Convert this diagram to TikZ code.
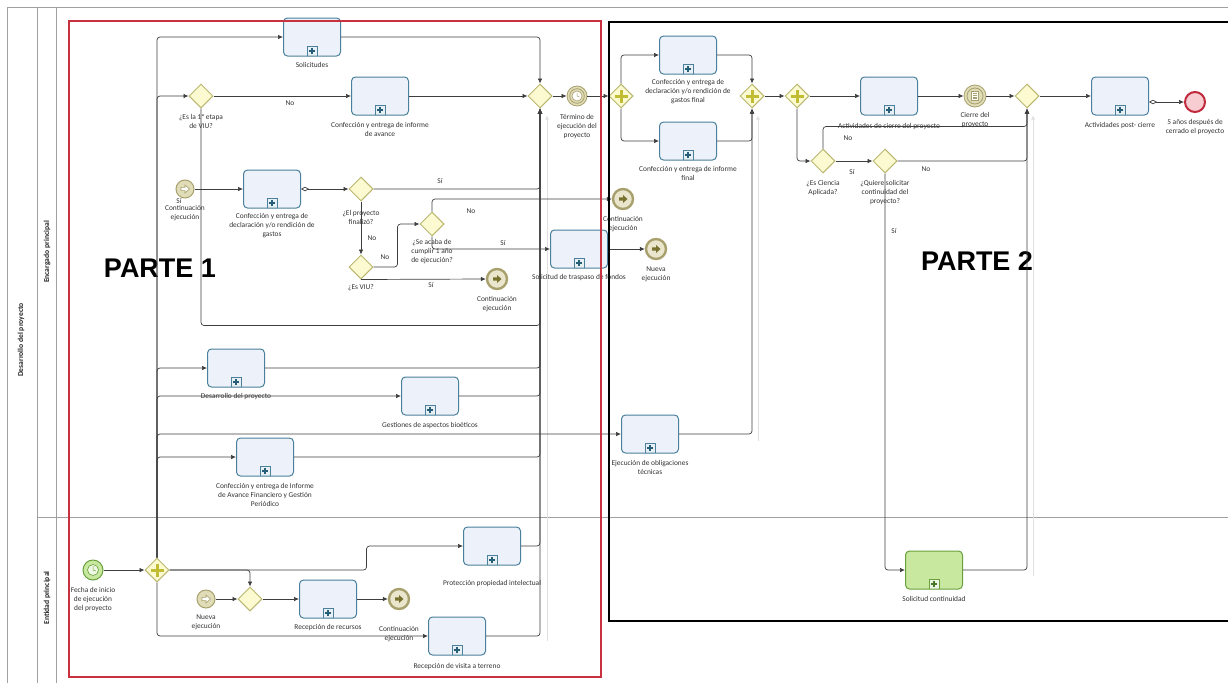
\documentclass[tikz,border=0pt]{standalone}
\usepackage{fontspec}
\setmainfont{Carlito}
\newfontfamily\partfont{Liberation Sans}
\usetikzlibrary{shapes.geometric,arrows.meta,positioning}

\definecolor{taskline}{RGB}{74,128,156}
\definecolor{taskfill}{RGB}{237,242,250}
\definecolor{taskplus}{RGB}{40,95,120}
\definecolor{greenline}{RGB}{105,160,60}
\definecolor{greenfill}{RGB}{200,232,160}
\definecolor{greenplus}{RGB}{70,120,40}
\definecolor{gwline}{RGB}{186,182,112}
\definecolor{gwfill}{RGB}{252,250,208}
\definecolor{gwcross}{RGB}{192,188,52}
\definecolor{evline}{RGB}{168,160,108}
\definecolor{evfill}{RGB}{224,220,184}
\definecolor{evicon}{RGB}{120,114,48}
\definecolor{endred}{RGB}{192,40,60}
\definecolor{endfill}{RGB}{248,205,210}
\definecolor{flowcol}{RGB}{62,62,62}
\definecolor{lanegray}{RGB}{160,160,160}
\definecolor{partred}{RGB}{200,50,62}
\definecolor{txt}{RGB}{50,50,50}

\newcommand{\subpmark}[2]{%
  \begin{scope}[shift={(path picture bounding box.center)}, sharp corners]
    \draw[#1, fill=#1!12, line width=0.9pt] (-5,19) rectangle (5,9);
    \draw[#2, line width=1.6pt] (0,17) -- (0,11) (-3,14) -- (3,14);
  \end{scope}}

\tikzset{
  lane/.style={draw=lanegray, line width=0.8pt},
  lanename/.style={font=\bfseries\fontsize{7.6}{8}\selectfont, text=black!85, rotate=90},
  taskbase/.style={rectangle, line width=1pt, rounded corners=4pt, minimum width=57pt, minimum height=38pt, inner sep=0pt},
  task/.style={taskbase, draw=taskline, fill=taskfill, path picture={\subpmark{taskline}{taskplus}}},
  greentask/.style={taskbase, draw=greenline, fill=greenfill, path picture={\subpmark{greenline}{greenplus}}},
  gw/.style={diamond, aspect=1, draw=gwline, fill=gwfill, line width=1pt, minimum size=24pt, inner sep=0pt},
  gwplus/.style={gw, path picture={\draw[gwcross, line width=3pt, shift={(path picture bounding box.center)}] (-6.5,0) -- (6.5,0) (0,-6.5) -- (0,6.5);}},
  evstart/.style={circle, draw=evline, fill=evfill, line width=1pt, minimum size=18pt, inner sep=0pt,
    path picture={\draw[evline, fill=white, line width=0.6pt, shift={(path picture bounding box.center)}] (-4,-1.6) -- (0,-1.6) -- (0,-4) -- (4.5,0) -- (0,4) -- (0,1.6) -- (-4,1.6) -- cycle;}},
  evend/.style={circle, draw=evline, fill=evfill!70, line width=2.4pt, minimum size=20pt, inner sep=0pt,
    path picture={\fill[evicon, shift={(path picture bounding box.center)}] (-4,-1.6) -- (0,-1.6) -- (0,-4) -- (4.5,0) -- (0,4) -- (0,1.6) -- (-4,1.6) -- cycle;}},
  evtimer/.style={circle, draw=evline, fill=evfill, line width=0.8pt, minimum size=20pt, inner sep=0pt,
    path picture={\begin{scope}[shift={(path picture bounding box.center)}]
      \draw[evline, line width=0.8pt] (0,0) circle (7.3pt);
      \draw[evline, fill=white, line width=0.6pt] (0,0) circle (5pt);
      \draw[evline, line width=0.5pt] (0,0) -- (0,-3.5) (0,0) -- (2.6,1);
    \end{scope}}},
  evcierre/.style={circle, draw=evline, fill=evfill, line width=0.8pt, minimum size=22pt, inner sep=0pt,
    path picture={\begin{scope}[shift={(path picture bounding box.center)}]
      \draw[evline, line width=0.8pt] (0,0) circle (8pt);
      \draw[evline, fill=white, line width=0.6pt] (-3.5,-4.5) rectangle (3.5,4.5);
      \draw[evline, line width=0.5pt] (-2,-2.5) -- (2,-2.5) (-2,-0.8) -- (2,-0.8) (-2,0.8) -- (2,0.8) (-2,2.5) -- (2,2.5);
    \end{scope}}},
  evfecha/.style={circle, draw=greenline, fill=greenfill, line width=1pt, minimum size=20pt, inner sep=0pt,
    path picture={\begin{scope}[shift={(path picture bounding box.center)}]
      \draw[greenline, fill=white!70!greenfill, line width=0.6pt] (0,0) circle (5.5pt);
      \draw[greenline, line width=0.5pt] (0,0) -- (0,-3.8) (0,0) -- (2.8,1);
    \end{scope}}},
  evfin/.style={circle, draw=endred, fill=endfill, line width=2pt, minimum size=20pt, inner sep=0pt},
  flow/.style={draw=flowcol, line width=0.7pt, rounded corners=3pt, -{Latex[length=5pt,width=4.5pt]}},
  cflow/.style={flow, {Diamond[open,length=8pt,width=4.5pt]}-{Latex[length=5pt,width=4.5pt]}},
  ghost/.style={draw=black!12, line width=0.7pt, {Latex[length=4pt,width=4pt]}-},
  lbl/.style={font=\fontsize{7.4}{9}\selectfont, text=txt, align=center, inner sep=1pt},
  parte/.style={font=\partfont\bfseries\fontsize{27}{27}\selectfont, inner sep=0pt},
  part1/.style={draw=partred, line width=1.6pt},
  part2/.style={draw=black, line width=1.6pt}
}

\begin{document}
\begin{tikzpicture}[x=1pt, y=-1pt]
\useasboundingbox (0,0) rectangle (1228,683);

\draw[lane] (7,683) -- (7,7) -- (1228,7);
\draw[lane] (37,7) -- (37,683);
\draw[lane] (56,7) -- (56,683);
\draw[lane] (37,517) -- (1228,517);
\node[lanename] (pool) at (21,340) {Desarrollo del proyecto};
\node[lanename] (lane1) at (47,252) {Encargado principal};
\node[lanename] (lane2) at (47,598) {Entidad principal};

\node[task] (solic) at (312,37) {};
\node[task] (avance) at (380,96) {};
\node[task] (decl) at (272,189) {};
\node[task] (traspaso) at (579,249) {};
\node[task] (desarr) at (236,368) {};
\node[task] (gestion) at (430,396) {};
\node[task] (infofin) at (265,457) {};
\node[task] (oblig) at (650,434) {};
\node[task] (recursos) at (328,599) {};
\node[task] (protec) at (492,546) {};
\node[task] (visita) at (457,636) {};
\node[task] (declfin) at (688,55) {};
\node[task] (inffinal) at (688,141) {};
\node[task] (actcierre) at (889,96) {};
\node[task] (post) at (1120,96) {};
\node[greentask] (contin) at (934,570) {};

\node[gw] (g1) at (201,96) {};
\node[gw] (gm) at (540,96) {};
\node[gw] (gfin) at (361,189) {};
\node[gw] (gviu) at (361,267) {};
\node[gw] (gano) at (432,224) {};
\node[gwplus] (gp1) at (157,570) {};
\node[gw] (gx2) at (250,599) {};
\node[gwplus] (gps) at (621,96) {};
\node[gwplus] (gpj) at (752,96) {};
\node[gwplus] (gp3) at (797,96) {};
\node[gw] (gcien) at (823,161) {};
\node[gw] (gquiere) at (885,161) {};
\node[gw] (gm2) at (1027,96) {};

\node[evstart] (contS) at (185,189) {};
\node[evend] (contE1) at (497,279) {};
\node[evend] (contE2) at (623,199) {};
\node[evend] (nuevaE) at (656,249) {};
\node[evend] (contE3) at (399,599) {};
\node[evstart] (nuevaS) at (206,599) {};
\node[evtimer] (termino) at (577,96) {};
\node[evcierre] (cierre) at (975,96) {};
\node[evfecha] (fecha) at (93,570) {};
\node[evfin] (fin) at (1195,102) {};

\node[lbl, below=5pt of solic] (solic-t) {Solicitudes};
\node[lbl, below=6pt of avance] (avance-t) {Confección y entrega de informe\\de avance};
\node[lbl, below=4pt of decl] (decl-t) {Confección y entrega de\\declaración y/o rendición de\\gastos};
\node[lbl, below=5pt of traspaso] (traspaso-t) {Solicitud de traspaso de fondos};
\node[lbl, below=5pt of desarr] (desarr-t) {Desarrollo del proyecto};
\node[lbl, below=6pt of gestion] (gestion-t) {Gestiones de aspectos bioéticos};
\node[lbl, below=6pt of infofin] (infofin-t) {Confección y entrega de Informe\\de Avance Financiero y Gestión\\Periódico};
\node[lbl, below=6pt of oblig] (oblig-t) {Ejecución de obligaciones\\técnicas};
\node[lbl, below=5pt of recursos] (recursos-t) {Recepción de recursos};
\node[lbl, below=14pt of protec] (protec-t) {Protección propiedad intelectual};
\node[lbl, below=7pt of visita] (visita-t) {Recepción de visita a terreno};
\node[lbl, below=4pt of declfin] (declfin-t) {Confección y entrega de\\declaración y/o rendición de\\gastos final};
\node[lbl, below=5pt of inffinal] (inffinal-t) {Confección y entrega de informe\\final};
\node[lbl, below=7pt of actcierre] (actcierre-t) {Actividades de cierre del proyecto};
\node[lbl, below=6pt of post] (post-t) {Actividades post- cierre};
\node[lbl, below=6pt of contin] (contin-t) {Solicitud continuidad};

\node[lbl, below=5pt of g1] (g1-t) {¿Es la 1ª etapa\\de VIU?};
\node[lbl, below=8pt of gfin] (gfin-t) {¿El proyecto\\finalizó?};
\node[lbl, below=4pt of gviu] (gviu-t) {¿Es VIU?};
\node[lbl, below=2pt of gano] (gano-t) {¿Se acaba de\\cumplir 1 año\\de ejecución?};
\node[lbl, below=6pt of gcien] (gcien-t) {¿Es Ciencia\\Aplicada?};
\node[lbl, below=6pt of gquiere] (gquiere-t) {¿Quiere solicitar\\continuidad del\\proyecto?};

\node[lbl, below=6pt of contS] (contS-t) {Continuación\\ejecución};
\node[lbl, below=7pt of termino] (termino-t) {Término de\\ejecución del\\proyecto};
\node[lbl, below=5pt of contE1] (contE1-t) {Continuación\\ejecución};
\node[lbl, below=5pt of contE2] (contE2-t) {Continuación\\ejecución};
\node[lbl, below=15pt of contE3] (contE3-t) {Continuación\\ejecución};
\node[lbl, below=5pt of nuevaE] (nuevaE-t) {Nueva\\ejecución};
\node[lbl, below=5pt of nuevaS] (nuevaS-t) {Nueva\\ejecución};
\node[lbl, below=6pt of fecha] (fecha-t) {Fecha de inicio\\de ejecución\\del proyecto};
\node[lbl, below=4pt of cierre] (cierre-t) {Cierre del\\proyecto};
\node[lbl, below=5pt of fin] (fin-t) {5 años después de\\cerrado el proyecto};

\node[lbl] (g1-no) at (290,103) {No};
\node[lbl] (g1-si) at (179,201) {Sí};
\node[lbl] (gfin-si) at (440,181) {Sí};
\node[lbl] (gfin-no) at (372,238) {No};
\node[lbl] (gviu-no) at (385,257) {No};
\node[lbl] (gviu-si) at (431,285) {Sí};
\node[lbl] (gano-no) at (471,211) {No};
\node[lbl] (gano-si) at (503,243) {Sí};
\node[lbl] (gcien-no) at (848,138) {No};
\node[lbl] (gcien-si) at (852,172) {Sí};
\node[lbl] (gquiere-no) at (926,169) {No};
\node[lbl] (gquiere-si) at (894,231) {Sí};

\node[parte] (p1) at (160,268) {PARTE 1};
\node[parte] (p2) at (977,261) {PARTE 2};

\draw[ghost] ([xshift=7pt,yshift=-7pt]gm.south) -- ++(0,525);
\draw[ghost] ([xshift=6pt,yshift=-7pt]gpj.south) -- ++(0,325);
\draw[ghost] ([xshift=6pt,yshift=-7pt]gm2.south) -- ++(0,460);

\draw[flow] (gp1.north) |- (solic.west);
\draw[flow] (gp1.north) |- (g1.west);
\draw[flow] (gp1.north) |- (desarr.west);
\draw[flow] (gp1.north) |- (gestion.west);
\draw[flow] (gp1.north) |- (oblig.west);
\draw[flow] (gp1.north) |- (infofin.west);
\draw[flow] (g1.east) -- (avance.west);
\draw[flow] (g1.south) -- ++(0,217) -| (gm.south);
\draw[flow] (solic.east) -| (gm.north);
\draw[flow] (avance.east) -- (gm.west);
\draw[flow] (contS.east) -- (decl.west);
\draw[cflow] (decl.east) -- (gfin.west);
\draw[flow] (gfin.east) -| (gm.south);
\draw[flow] (gfin.south) -- (gviu.north);
\draw[flow] (gviu.east) -- ++(24,0) |- (gano.west);
\draw[flow] (gviu.south) -- (contE1.west);
\draw[flow] (gano.north) |- (contE2.west);
\draw[flow] (gano.south) |- (traspaso.west);
\draw[flow] (traspaso.east) -- (nuevaE.west);
\draw[flow] (desarr.east) -| (gm.south);
\draw[flow] (gestion.east) -| (gm.south);
\draw[flow] (infofin.east) -| (gm.south);
\draw[flow] (gm.east) -- (termino.west);
\draw[flow] (termino.east) -- (gps.west);

\draw[flow] (fecha.east) -- (gp1.west);
\draw[flow] (gp1.east) -| (gx2.north);
\draw[flow] (gp1.east) -- ++(197,0) |- (protec.west);
\draw[flow] (gp1.south) |- (visita.west);
\draw[flow] (nuevaS.east) -- (gx2.west);
\draw[flow] (gx2.east) -- (recursos.west);
\draw[flow] (recursos.east) -- (contE3.west);
\draw[flow] (protec.east) -| (gm.south);
\draw[flow] (visita.east) -| (gm.south);

\draw[flow] (gps.north) |- (declfin.west);
\draw[flow] (gps.south) |- (inffinal.west);
\draw[flow] (declfin.east) -| (gpj.north);
\draw[flow] (inffinal.east) -| (gpj.south);
\draw[flow] (oblig.east) -| (gpj.south);
\draw[flow] (gpj.east) -- (gp3.west);
\draw[flow] (gp3.east) -- (actcierre.west);
\draw[flow] (gp3.south) |- (gcien.west);
\draw[flow] (gcien.north) -- ++(0,-22) -| (gm2.south);
\draw[flow] (gcien.east) -- (gquiere.west);
\draw[flow] (gquiere.east) -| (gm2.south);
\draw[flow] (gquiere.south) |- (contin.west);
\draw[flow] (contin.east) -| (gm2.south);
\draw[flow] (actcierre.east) -- (cierre.west);
\draw[flow] (cierre.east) -- (gm2.west);
\draw[flow] (gm2.east) -- (post.west);
\draw[cflow] (post.east |- fin.west) -- (fin.west);

\draw[part1] (69,21) rectangle (601,677);
\draw[part2] (1232,22) -- (609,22) -- (609,621) -- (1232,621);
\end{tikzpicture}
\end{document}
